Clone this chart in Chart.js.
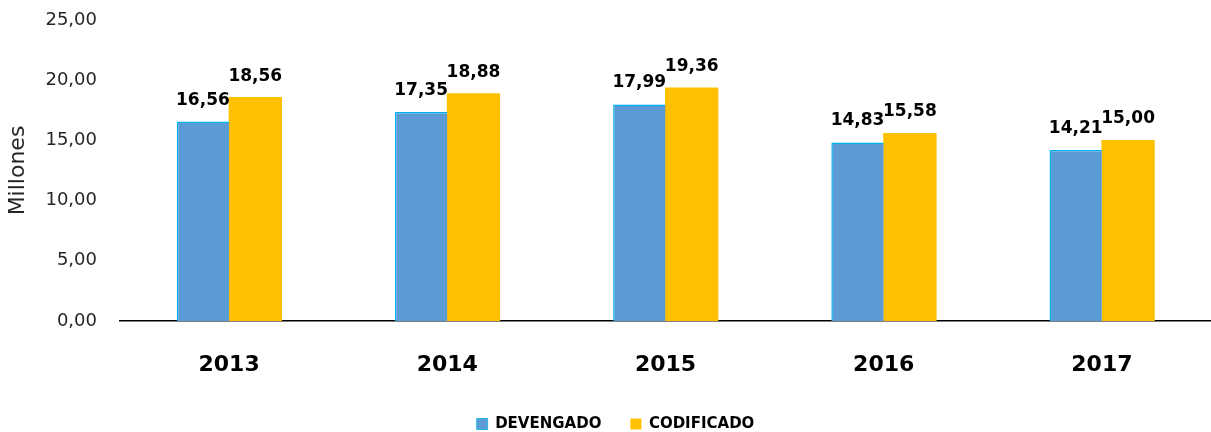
<!DOCTYPE html>
<html>
<head>
<meta charset="utf-8">
<script src="https://cdn.jsdelivr.net/npm/chart.js@4/dist/chart.umd.min.js"></script>
<style>
  html, body { margin: 0; padding: 0; background: #fff; overflow: hidden; }
  canvas { display: block; }
</style>
</head>
<body>
<canvas id="c" width="1211" height="432"></canvas>
<script>
// datos del grafico
const years = ['2013', '2014', '2015', '2016', '2017'];
const devengado = [16.56, 17.35, 17.99, 14.83, 14.21];
const codificado = [18.56, 18.88, 19.36, 15.58, 15.00];
const yTicks = [0, 5, 10, 15, 20, 25];

const fmt = v => Number(v).toFixed(2).replace('.', ',');

// etiquetas de valor sobre cada barra
const valueLabels = {
  id: 'valueLabels',
  afterDatasetsDraw(chart) {
    const ctx = chart.ctx;
    ctx.save();
    ctx.font = 'bold 17px "DejaVu Sans"';
    ctx.fillStyle = '#000';
    ctx.textAlign = 'center';
    ctx.textBaseline = 'alphabetic';
    chart.data.datasets.forEach((ds, i) => {
      chart.getDatasetMeta(i).data.forEach((bar, j) => {
        ctx.fillText(fmt(ds.data[j]), bar.x, bar.y - 17);
      });
    });
    ctx.restore();
  }
};

// baja un poco la leyenda y la centra como en el original
const legendDown = {
  id: 'legendDown',
  afterLayout(chart) {
    const l = chart.legend;
    if (!l) return;
    l.top += 9.5;
    l.bottom += 9.5;
    l.left += 10;
    l.right += 10;
  }
};

new Chart(document.getElementById('c'), {
  type: 'bar',
  data: {
    labels: years,
    datasets: [
      {
        label: 'DEVENGADO',
        data: devengado,
        backgroundColor: '#5B9BD5',
        borderColor: '#00B0F0',
        borderWidth: { left: 1.5, top: 1.5, right: 0, bottom: 0 },
        borderSkipped: false,
        inflateAmount: 0
      },
      {
        label: 'CODIFICADO',
        data: codificado,
        backgroundColor: '#FFC000',
        borderWidth: 0,
        inflateAmount: 0.5
      }
    ]
  },
  options: {
    responsive: false,
    animation: false,
    devicePixelRatio: 1,
    layout: { padding: { top: 20, left: 0, right: 0, bottom: 0 } },
    datasets: { bar: { categoryPercentage: 0.48, barPercentage: 1 } },
    scales: {
      x: {
        grid: { display: false, drawTicks: false },
        border: { display: true, color: '#000', width: 1.5 },
        ticks: { color: '#000', font: { family: 'DejaVu Sans', size: 22, weight: 'bold' }, padding: 31 },
        afterFit(s) { s.height = 57; }
      },
      y: {
        min: 0,
        max: 25,
        afterBuildTicks(s) { s.ticks = yTicks.map(v => ({ value: v })); },
        grid: { display: false, drawTicks: false },
        border: { display: false },
        ticks: { color: '#262626', font: { family: 'DejaVu Sans', size: 18 }, padding: 23, callback: v => fmt(v) },
        title: { display: true, text: 'Millones', color: '#262626', font: { family: 'DejaVu Sans', size: 22 }, padding: { top: 5, bottom: 0 } },
        afterFit(s) { s.width = 120; s.paddingTop = 0; s.paddingBottom = 0; }
      }
    },
    plugins: {
      legend: {
        position: 'bottom',
        labels: {
          boxWidth: 11,
          boxHeight: 11,
          padding: 29,
          color: '#000',
          font: { family: 'DejaVu Sans', size: 15, weight: 'bold' }
        }
      },
      tooltip: { enabled: false }
    }
  },
  plugins: [valueLabels, legendDown]
});
</script>
</body>
</html>
